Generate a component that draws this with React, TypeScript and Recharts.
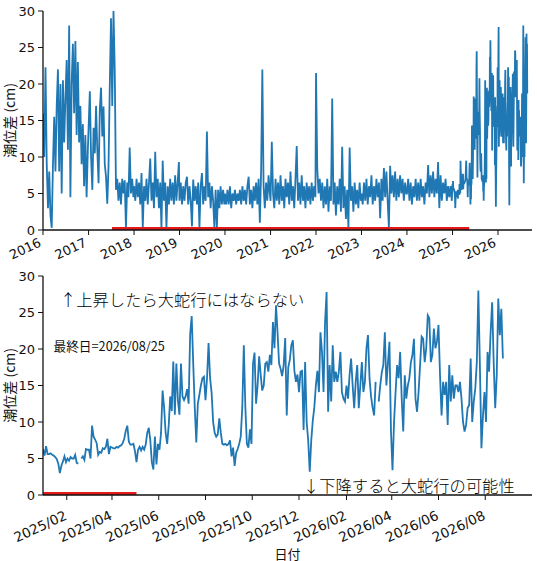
import React from 'react';
import { LineChart, Line, XAxis, YAxis } from 'recharts';

const DAY = 86400000;
const utc = (y: number, m: number, d: number) => Date.UTC(y, m - 1, d);

// Upper panel: 10-day samples, each year starting Jan 1
const y2016 = [16, 10, 22.3, 9, 3, 8, 2, 0.3, 9, 15.5, 8, 17, 22, 8, 20, 5, 20.5, 12, 18, 23.3, 11, 28, 4.5, 20, 25.5, 16, 25.9, 13, 23, 12, 17, 9, 14.5, 6, 13, 4.5, 11];
const y2017 = [14, 19, 10, 5.5, 14, 10.5, 17, 11, 6.4, 16.5, 19.5, 12.8, 16.9, 9, 7.3, 3.6, 8.7, 19.6, 29, 17, 30, 22, 5.5, 7, 4, 6.5, 3.5, 7, 5, 6.8, 0.3, 6.5, 4.5, 11.3, 5, 7, 4.5];
const y2018 = [6, 4, 7, 4.5, 6.5, 3.5, 7.8, 0.3, 6, 4, 7, 3.5, 6.5, 9.8, 4, 6.5, 3, 10.7, 4.5, 7, 3, 6.5, 0.2, 9.5, 4, 6.5, 0.3, 6, 3.5, 7, 4, 6.5, 3.5, 7.5, 4, 6.5, 9.3];
const y2019 = [4, 6.5, 3.5, 6, 4, 6.5, 7.3, 3.5, 6, 4, 0.5, 6.9, 4, 6, 3.5, 6.5, 0.3, 6, 7.8, 3.5, 6, 4, 13.5, 4.5, 6.5, 3, 6, 4, 0.3, 5.5, 0.3, 5.5, 3, 6, 3.5, 5.5, 3.5];
const y2020 = [5, 3.5, 5.5, 3.5, 6, 3, 5, 4, 5.5, 3.5, 5, 4, 5.5, 3.5, 6, 4, 5.5, 3.5, 6, 7.3, 3.5, 5.5, 3, 6, 4, 6.5, 3.5, 7, 1.0, 8, 22, 6, 3, 6.5, 4, 7.5, 5];
const y2021 = [4, 12.1, 5, 3, 7, 4, 6.5, 3.5, 7.5, 4, 6, 3, 7, 4.5, 6.5, 3.5, 8, 4, 6, 3, 7, 11.5, 4, 6.5, 3.5, 7.5, 4, 6, 3, 6.5, 4, 6, 3.5, 6.5, 4, 6, 4.5];
const y2022 = [21.5, 8.5, 5, 7, 4, 6.5, 3, 6, 3.5, 7, 2.5, 6, 4, 18, 3.5, 6.5, 2, 6, 3.5, 7, 2.5, 11.4, 3, 6, 1.5, 5.5, 0.3, 11.3, 4, 6, 2.5, 6.5, 3.5, 5.5, 3, 6.5, 4];
const y2023 = [5, 3.5, 6.5, 4, 7, 3.5, 6, 4.5, 7.5, 3.5, 6, 4, 7, 4.5, 6.5, 1.6, 7, 4, 8.5, 4.5, 8, 4, 0.3, 8.8, 5, 7.5, 4.5, 8, 4, 7, 4.5, 7.5, 5, 7, 4, 6.5, 5];
const y2024 = [5, 7, 4, 6.5, 3.5, 6, 4.5, 7, 4, 6.5, 4, 7, 4.5, 6, 3.5, 6.5, 5, 8.9, 4.5, 7.5, 5, 8, 4.5, 7, 5, 9.3, 3, 7.5, 4, 6.5, 5, 7, 4, 6, 4.5, 6, 4];

const yearly: [number, number[]][] = [
  [2016, y2016], [2017, y2017], [2018, y2018], [2019, y2019], [2020, y2020],
  [2021, y2021], [2022, y2022], [2023, y2023], [2024, y2024],
];

// Recent period: 2-day samples from 2025-01-01 (null = missing)
const recent: (number | null)[] = [
  6.3, 5.4, 6.7, 5.6, 5.6, 5.7, 5.5, 5.4, 5.2, 4.9,
  4.3, 3.0, 4.0, 4.6, 5.3, 4.5, 5.0, 4.7, 5.2, 5.0,
  5.0, 5.5, 4.4, 4.3, null, 5.0, 5.3, 4.8, 6.3, 6.2,
  6.2, 5.0, 9.5, 8.0, 7.6, 7.1, 5.5, 5.9, 5.8, 6.4,
  6.3, 6.6, 7.7, 5.6, 6.6, 6.5, 6.4, 6.4, 6.6, 6.5,
  6.7, 6.8, 7.1, 7.7, 8.8, 9.5, 7.3, 6.9, 6.9, 7.0,
  6.0, 4.5, 6.2, 6.6, 6.1, 6.6, 6.2, 6.9, 8.5, 9.2,
  7.5, 4.5, 3.5, 8.0, 4.2, 7.0, 6.2, 8.5, 14.3, 12.0,
  8.5, 7.0, 9.5, 13.5, 11.5, 18.3, 11.0, 18.0, 13.0, 11.0,
  18.0, 13.5, 13.0, 13.5, 14.5, 12.5, 22.0, 24.5, 18.0, 12.0,
  7.2, 12.5, 13.7, 15.0, 16.0, 16.2, 13.0, 16.0, 20.8, 16.0,
  14.0, 10.0, 8.5, 8.0, 8.3, 10.5, 8.5, 7.0, 6.9, 7.0,
  6.8, 7.0, 7.5, 5.3, 6.5, 4.0, 5.8, 6.3, 7.0, 8.0,
  12.0, 20.5, 12.0, 7.0, 6.5, 9.0, 7.0, 18.0, 19.5, 12.5,
  15.0, 19.0, 16.5, 14.3, 15.0, 18.0, 18.2, 16.9, 19.2, 17.8,
  23.7, 20.1, 26.0, 22.3, 18.0, 17.3, 16.3, 17.8, 21.5, 10.9,
  17.5, 18.5, 20.5, 21.2, 17.0, 15.5, 16.5, 14.1, 16.9, 17.0,
  8.9, 18.2, 10.0, 7.5, 3.2, 7.5, 10.2, 12.0, 15.0, 17.0,
  14.1, 22.3, 19.6, 14.1, 23.7, 27.8, 11.4, 17.8, 12.8, 20.5,
  15.5, 16.9, 15.5, 16.9, 19.6, 14.1, 13.2, 12.8, 15.0, 13.2,
  16.5, 18.7, 15.0, 11.9, 15.5, 17.8, 11.9, 15.0, 18.2, 14.1,
  15.5, 20.1, 21.9, 16.0, 13.5, 12.0, 10.9, 15.5, null, 12.8,
  15.0, 16.8, 17.8, 22.3, 15.0, 18.0, 21.0, 8.7, 3.4, 10.0,
  14.1, 17.8, 16.0, 19.6, 13.2, 8.7, 16.4, 13.2, 15.0, 16.0,
  18.2, 19.2, 21.4, 13.2, 11.4, 14.1, 17.8, 21.7, 21.4, 18.2,
  20.1, 24.6, 24.2, 18.2, 19.2, 22.8, 20.1, 21.0, 23.3, 16.4,
  10.9, 15.5, 13.7, 15.5, 9.6, 17.8, 12.8, 16.4, 13.2, 15.0,
  15.0, 14.1, 15.5, 13.2, 10.0, 8.7, 9.6, 11.9, 12.3, 18.7,
  10.0, 12.8, 14.6, 18.2, 28.0, 17.8, 6.4, 10.9, 14.1, 10.0,
  19.6, 16.9, 22.3, 26.4, 18.2, 11.9, 16.4, 26.9, 21.9, 25.5, 18.7,
];

// Large-meander period shown as red bars on the zero line
const meanderTop = [utc(2017, 7, 8), utc(2025, 5, 15)];
const meanderBottom = [utc(2025, 1, 1), utc(2025, 5, 3)];

const yearTickList = [2016, 2017, 2018, 2019, 2020, 2021, 2022, 2023, 2024, 2025, 2026];
const monthTickList: [number, number][] = [
  [2025, 2], [2025, 4], [2025, 6], [2025, 8], [2025, 10], [2025, 12],
  [2026, 2], [2026, 4], [2026, 6], [2026, 8],
];
const yTicks = [0, 5, 10, 15, 20, 25, 30];

const yLabel = '潮位差 (cm)';
const xLabel = '日付';
const noteUp = '↑上昇したら大蛇行にはならない';
const noteDown = '↓下降すると大蛇行の可能性';
const noteLast = '最終日=2026/08/25';

const topDomain = [utc(2016, 1, 1), utc(2026, 10, 1)];
const bottomDomain = [utc(2025, 1, 1), utc(2026, 10, 1)];

const topData: { t: number; v: number | null }[] = [];
yearly.forEach(([yr, arr]) => arr.forEach((v, i) => topData.push({ t: utc(yr, 1, 1) + i * 10 * DAY, v })));
recent.forEach((v, i) => topData.push({ t: utc(2025, 1, 1) + i * 2 * DAY, v }));
const bottomData = recent.map((v, i) => ({ t: utc(2025, 1, 1) + i * 2 * DAY, v }));
const redTop = meanderTop.map((t) => ({ t, r: 0 }));
const redBottom = meanderBottom.map((t) => ({ t, r: 0 }));

const yearTicks = yearTickList.map((y) => utc(y, 1, 1));
const monthTicks = monthTickList.map(([y, m]) => utc(y, m, 1));

const INK = '#111';
const BLUE = '#1f77b4';
const RED = '#e3191c';
const tickStyle = { fontSize: 13, fill: INK, fontFamily: 'DejaVu Sans' };
const axisLine = { stroke: INK, strokeWidth: 1.3 };
const jp = "'Noto Sans CJK JP', sans-serif";

const fmtYear = (t: number) => String(new Date(t).getUTCFullYear());
const fmtMonth = (t: number) => {
  const d = new Date(t);
  return `${d.getUTCFullYear()}/${String(d.getUTCMonth() + 1).padStart(2, '0')}`;
};

function makeTick(fmt: (t: number) => string, dx: number, dy: number, size: number, angle: number) {
  return (p: any) => {
    const ax = p.x + dx;
    const ay = p.y + dy;
    return (
      <text x={ax} y={ay} dy="0.71em" transform={`rotate(${-angle} ${ax} ${ay})`} textAnchor="end"
        fontSize={size} fontFamily="DejaVu Sans" fill={INK}>
        {fmt(p.payload.value)}
      </text>
    );
  };
}

function Panel(props: {
  top: number; height: number; xHeight: number; domain: number[]; ticks: number[];
  tick: any; data: any[]; red: any[]; lineWidth: number;
}) {
  const { top, height, xHeight, domain, ticks, tick, data, red, lineWidth } = props;
  return (
    <div style={{ position: 'absolute', left: 0, top }}>
      <LineChart width={537} height={height} margin={{ top: 11, right: 5, bottom: 0, left: 0 }}>
        <XAxis xAxisId="x" dataKey="t" type="number" domain={domain} allowDataOverflow ticks={ticks}
          interval={0} height={xHeight} tick={tick} tickSize={5} tickMargin={2} stroke={INK} axisLine={axisLine} />
        <XAxis xAxisId="top" orientation="top" type="number" domain={domain} tick={false}
          tickLine={false} height={0} stroke={INK} axisLine={axisLine} />
        <YAxis yAxisId="y" type="number" domain={[0, 30]} ticks={yTicks} interval={0} allowDataOverflow
          width={43} tick={tickStyle} tickSize={5} tickMargin={3} stroke={INK} axisLine={axisLine} />
        <YAxis yAxisId="right" orientation="right" type="number" domain={[0, 30]} tick={false}
          tickLine={false} width={0} stroke={INK} axisLine={axisLine} />
        <Line xAxisId="x" yAxisId="y" data={data} dataKey="v" stroke={BLUE} strokeWidth={lineWidth}
          dot={false} isAnimationActive={false} />
        <Line xAxisId="x" yAxisId="y" data={red} dataKey="r" stroke={RED} strokeWidth={6}
          dot={false} isAnimationActive={false} />
      </LineChart>
    </div>
  );
}

export default function App() {
  return (
    <div style={{ position: 'absolute', left: 0, top: 0, width: 537, height: 561, background: '#fff' }}>
      <Panel top={0} height={265} xHeight={35} domain={topDomain} ticks={yearTicks}
        tick={makeTick(fmtYear, -5, 0.5, 13, 25)} data={topData} red={redTop} lineWidth={1.8} />
      <Panel top={265} height={296} xHeight={66} domain={bottomDomain} ticks={monthTicks}
        tick={makeTick(fmtMonth, -3, 8, 13.6, 25)} data={bottomData} red={redBottom} lineWidth={1.8} />
      <svg width={537} height={561} style={{ position: 'absolute', left: 0, top: 0, pointerEvents: 'none' }}>
        <text x={9} y={120.4} transform="rotate(-90 9 120.4)" textAnchor="middle" dominantBaseline="central"
          fontSize={14} fontFamily={jp} fill={INK}>{yLabel}</text>
        <text x={9} y={385.3} transform="rotate(-90 9 385.3)" textAnchor="middle" dominantBaseline="central"
          fontSize={14} fontFamily={jp} fill={INK}>{yLabel}</text>
        <text x={287.5} y={553} textAnchor="middle" dominantBaseline="central" fontSize={13}
          fontFamily={jp} fill={INK}>{xLabel}</text>
        <text x={60} y={298.5} dominantBaseline="central" fontSize={16.3} fontFamily={jp} fill="#000"
          fontWeight={300}>{noteUp}</text>
        <text x={53.5} y={345} dominantBaseline="central" fontSize={12.7} fontFamily={jp} fill="#111"
          fontWeight={400}>{noteLast}</text>
        <text x={303} y={485} dominantBaseline="central" fontSize={16.3} fontFamily={jp} fill="#000"
          fontWeight={300}>{noteDown}</text>
      </svg>
    </div>
  );
}
